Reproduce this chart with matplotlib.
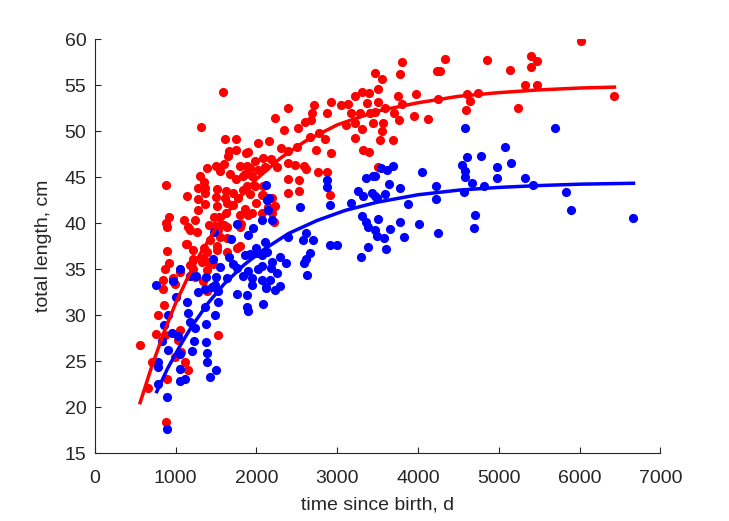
import matplotlib
matplotlib.use("Agg")
import matplotlib.pyplot as plt

# red group: time since birth (d) and total length (cm)
red_t = [6015, 5403, 5470, 5403, 5140, 5325, 5470, 6430, 5235,
         4335, 4851, 3807, 3782, 3469, 3560, 3510, 4233, 4273, 3980, 3750,
         3502, 3807, 4245, 4604, 4641, 4740, 3593, 3708, 3955, 4129, 4591,
         3469, 3572, 3766, 3560, 3531, 3695,
         3221, 3312, 3395, 2924, 3048, 3131, 2718, 2396, 3366, 2686, 2871,
         3172, 3283, 3407, 2231, 2603, 2677, 2520, 3106, 3221, 3312, 3448,
         2347, 2776, 3221, 2665, 2025, 2157, 2850, 2306, 2500, 2735, 3324,
         3395, 2924, 1901, 2388, 2087, 2182, 1984, 2252, 2396, 2479, 2594,
         2611, 1922, 2025, 2108, 2760, 2871, 3502, 1943, 1881, 1984, 2396,
         2528, 2528, 2388, 2087, 2191, 2912, 1860,
         1943, 2149, 2231, 2191, 2223,
         1592, 1316, 1613, 1745, 1662, 1745, 1869, 1646, 1386, 1498, 1604,
         1798, 1881, 1303, 1551, 1675, 1356, 1745, 1839, 879, 1275, 1365,
         1510, 1621, 1715, 1839, 1139, 1275, 1365, 1498, 1613, 1777, 1922,
         1275, 1365, 1510, 1634, 1715, 1860, 920, 1109, 1241, 1480, 1621,
         1798, 891, 1158, 1489, 1604, 1811,
         882, 1179, 1262, 891, 1130, 1220, 1353, 923, 1213, 1344, 870, 1056,
         1220, 849, 965, 1241, 849, 1344, 1386, 1542, 1419, 1530, 1634, 1798,
         1901, 2067, 1996, 2067, 2087, 1427, 1551, 1634, 1386, 1510, 1634,
         1324, 1468, 1386, 1757,
         1139, 994, 861, 779, 755, 561, 870, 1035, 994, 705, 1118, 1151,
         1530, 891, 663, 882, 1510, 1798, 1406, 1179, 1056, 1068]
red_L = [59.8, 58.2, 57.6, 57.0, 56.7, 55.0, 55.0, 53.8, 52.5,
         57.9, 57.8, 57.5, 56.2, 56.3, 55.7, 54.6, 56.6, 56.6, 54.0, 53.8,
         53.2, 53.0, 53.5, 54.0, 53.3, 54.2, 52.5, 52.0, 51.7, 51.3, 52.3,
         52.1, 50.9, 51.2, 50.0, 49.0, 49.0,
         53.8, 54.3, 54.2, 53.2, 52.9, 53.0, 52.9, 52.5, 53.1, 52.0, 52.0,
         52.0, 52.0, 52.0, 51.4, 51.0, 51.2, 50.4, 50.7, 50.9, 50.2, 50.9,
         50.1, 49.8, 49.3, 49.4, 48.7, 48.9, 49.2, 48.2, 48.3, 48.0, 48.0,
         47.8, 47.6, 47.8, 47.9, 47.1, 47.0, 46.8, 46.1, 46.6, 46.3, 46.2,
         45.9, 46.0, 45.8, 46.1, 45.6, 45.6, 46.1, 45.1, 44.1, 44.0, 44.8,
         44.7, 43.5, 43.3, 43.1, 42.8, 43.1, 45.4,
         41.1, 41.8, 41.9, 41.1, 40.1,
         54.3, 50.5, 49.2, 49.2, 47.9, 48.0, 47.6, 47.3, 46.0, 46.2, 46.4,
         46.2, 46.2, 45.1, 45.7, 45.4, 44.5, 44.8, 45.1, 44.2, 43.8, 43.8,
         43.7, 43.5, 43.3, 43.6, 43.0, 42.6, 43.3, 42.9, 42.7, 42.7, 43.2,
         41.4, 42.1, 41.9, 42.2, 42.0, 41.6, 40.7, 40.4, 40.4, 40.7, 41.1,
         40.9, 39.6, 39.6, 39.7, 39.8, 39.9,
         40.0, 39.3, 39.0, 37.0, 37.7, 37.1, 37.3, 35.7, 36.1, 36.2, 35.0, 34.7,
         35.0, 33.8, 34.1, 34.2, 32.9, 33.7, 32.6, 40.7, 39.8, 39.3, 39.6, 39.6,
         40.9, 41.1, 42.2, 43.1, 44.0, 38.2, 38.5, 38.4, 36.9, 37.1, 36.9,
         35.8, 35.6, 34.9, 37.3,
         37.7, 33.4, 31.1, 30.0, 28.0, 26.8, 27.9, 27.3, 25.5, 24.9, 24.9, 24.0,
         27.9, 23.1, 22.1, 18.4, 37.5, 37.5, 35.8, 35.5, 28.4, 26.0]

# blue group
blue_t = [5700, 5152, 5329, 5424, 5829, 5895, 6666, 4583, 5078, 4777,
          4604, 3543, 3614, 3695, 4550, 4975, 4055, 4583, 4583, 4666, 4975,
          3642, 3469, 3778, 4224, 4822, 4574, 3593, 3469, 3881, 4706, 4694,
          3502, 3778, 4017, 3469, 3655, 3490, 3584, 3828, 4253, 3605, 4224,
          2116, 2157, 2871, 2871, 2912, 3354, 3448, 3262, 3324, 3428, 3490,
          3172, 2541,
          3304, 3354, 3379, 2067, 2191, 1963, 2611, 2396, 2582, 2706, 2912,
          2995, 3386, 3296, 2129, 1922, 2005, 2293, 2665, 2364, 2191, 2611,
          2594, 2067, 1901, 2252, 2182, 1943, 2075, 2170, 2624, 2293, 2116,
          2232, 1881, 2087, 1881, 1894,
          1765, 1477, 1901, 1683, 2108, 1996, 2067, 1860, 1460, 1666, 1551,
          1715, 1757, 2025, 1056, 1179, 1254, 1378, 1501, 1642, 1839, 1943,
          2120, 759, 973, 1489, 1365, 1530, 1757, 1283, 1006, 2129, 2149,
          1139, 903, 861, 953, 1035, 1179, 1241, 1374, 1374, 1233, 837, 903,
          1056, 1200, 1386, 1386, 787, 787, 1498, 1056, 1118, 1056, 1427, 787,
          891, 891, 1365, 1489, 1151, 1456, 1530]
blue_L = [50.4, 46.5, 44.9, 44.2, 43.4, 41.4, 40.6, 50.4, 48.3, 47.3,
          47.2, 46.0, 45.8, 46.2, 46.3, 46.1, 45.6, 45.7, 45.0, 44.4, 44.9,
          44.3, 45.1, 43.8, 44.1, 44.1, 43.4, 43.2, 43.0, 42.1, 40.9, 39.5,
          40.5, 40.1, 39.9, 39.3, 39.4, 38.6, 38.4, 38.5, 38.9, 37.2, 42.6,
          44.2, 42.7, 44.7, 43.9, 42.0, 44.9, 45.1, 43.5, 43.0, 43.3, 42.7,
          42.2, 41.8,
          40.8, 40.1, 39.6, 40.4, 40.4, 39.5, 38.9, 38.5, 38.2, 38.2, 37.6,
          37.6, 37.4, 36.3, 36.9, 36.7, 36.8, 36.3, 36.8, 35.7, 35.8, 36.1,
          35.7, 35.4, 34.8, 34.6, 35.1, 34.1, 33.8, 33.8, 34.4, 33.2, 33.0,
          32.7, 32.2, 31.2, 30.9, 30.5,
          39.9, 39.1, 38.7, 38.3, 38.0, 37.3, 36.6, 36.6, 36.1, 36.3, 35.3,
          35.6, 35.1, 35.0, 35.0, 34.3, 34.3, 34.2, 34.2, 34.1, 34.3, 33.3,
          33.1, 33.3, 33.7, 33.3, 32.9, 32.6, 32.3, 32.5, 32.0, 42.5, 41.4,
          31.4, 30.0, 28.9, 28.1, 27.8, 29.3, 28.6, 29.0, 27.1, 27.2, 27.2, 26.2,
          25.8, 26.1, 25.9, 24.9, 24.9, 24.4, 24.0, 24.2, 23.1, 22.9, 23.3, 22.5,
          21.1, 17.6, 30.9, 30.0, 30.3, 33.1, 31.4]

# fitted growth curves
red_fit_t = [561, 700, 850, 1000, 1150, 1300, 1500, 1750, 2000, 2300, 2600,
             3000, 3500, 4000, 4500, 5000, 5500, 6000, 6430]
red_fit_L = [20.5, 24.3, 28.0, 31.3, 34.1, 36.6, 39.5, 42.4, 44.8, 47.1, 48.9,
             50.7, 52.2, 53.1, 53.8, 54.2, 54.5, 54.7, 54.8]
blue_fit_t = [767, 900, 1050, 1200, 1400, 1600, 1850, 2100, 2400, 2750, 3100,
              3500, 4000, 4500, 5000, 5500, 6000, 6666]
blue_fit_L = [21.7, 24.2, 26.6, 28.8, 31.3, 33.4, 35.5, 37.2, 38.9, 40.3, 41.4,
              42.3, 43.1, 43.6, 43.9, 44.1, 44.25, 44.35]

plt.rcParams['font.family'] = ['Liberation Sans', 'DejaVu Sans']
dark = '#262626'

fig = plt.figure(figsize=(7.29, 5.21), dpi=100)
ax = fig.add_axes([0.130, 0.130, 0.776, 0.7946])

ax.plot(red_t, red_L, 'o', color='red', markersize=6.6, markeredgewidth=0)
ax.plot(blue_t, blue_L, 'o', color='blue', markersize=6.6, markeredgewidth=0)
ax.plot(red_fit_t, red_fit_L, '-', color='red', linewidth=2.5)
ax.plot(blue_fit_t, blue_fit_L, '-', color='blue', linewidth=2.5)

ax.set_xlim(0, 7000)
ax.set_ylim(15, 60)
ax.set_xticks(range(0, 7001, 1000))
ax.set_yticks(range(15, 61, 5))
ax.spines['top'].set_visible(False)
ax.spines['right'].set_visible(False)
for s in ['left', 'bottom']:
    ax.spines[s].set_color(dark)
    ax.spines[s].set_linewidth(0.8)
ax.tick_params(direction='in', length=4, width=0.8, colors=dark,
               labelsize=14)
ax.tick_params(axis='x', pad=12)
ax.tick_params(axis='y', pad=6)

ax.set_xlabel('time since birth, d', fontsize=14, color=dark, labelpad=7)
ax.set_ylabel('total length, cm', fontsize=14, color=dark, labelpad=9)

fig.savefig('out.png', dpi=100)
